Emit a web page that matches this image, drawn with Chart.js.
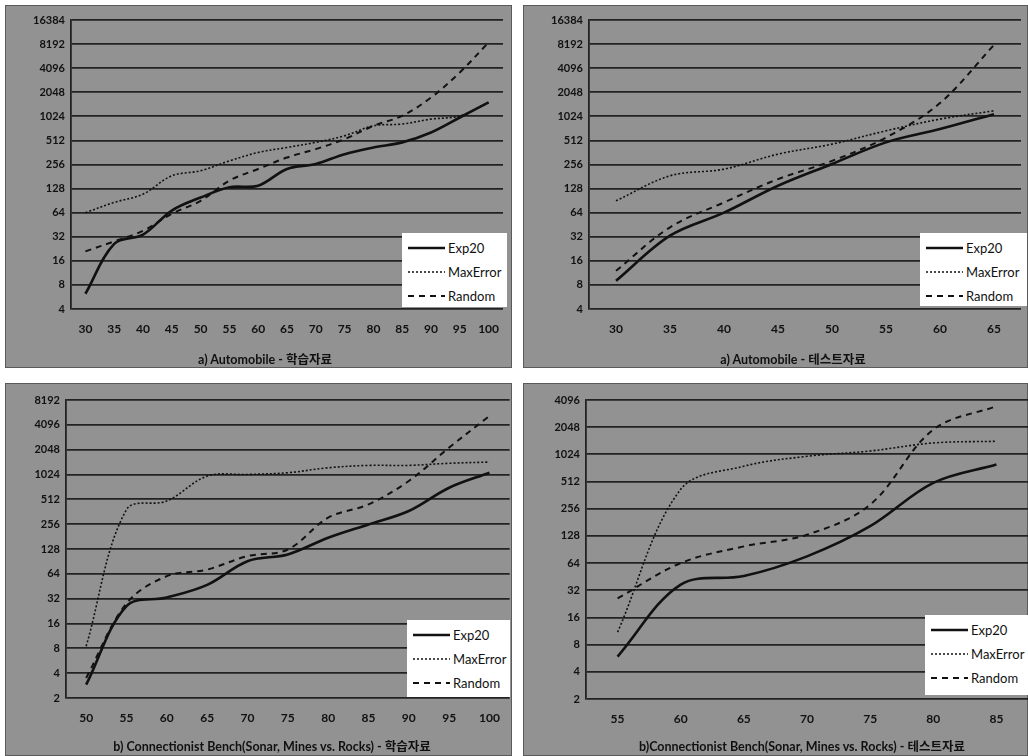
<!DOCTYPE html>
<html>
<head>
<meta charset="utf-8">
<script src="https://cdn.jsdelivr.net/npm/chart.js@4"></script>
<style>
  html, body { margin: 0; padding: 0; background: #fff; }
  body { width: 1028px; height: 756px; position: relative; overflow: hidden;
         font-family: Lato, "Noto Sans CJK KR", sans-serif; }
  .panel { position: absolute; background: #929292; box-sizing: border-box; border: 1px solid #5a5a5a; }
  .panel canvas { position: absolute; left: 0; top: 0; }
  .caption { position: absolute; font-weight: bold; font-size: 12.5px; color: #111;
             transform: translate(-50%, -50%); white-space: nowrap; }
  .legend { position: absolute; background: #fff; box-sizing: border-box; }
  .legend .item { position: absolute; left: 0; right: 0; height: 16px; font-size: 13px; color: #111; }
  .legend svg { position: absolute; left: 6px; top: 2px; }
  .legend span { position: absolute; left: 46px; top: 0; line-height: 16px; }
</style>
</head>
<body>
<script>
// ---------------------------------------------------
// DATA
// ---------------------------------------------------
const seriesNames = ['Exp20', 'MaxError', 'Random'];

// a) Automobile - training
const autoTrainX = [30, 35, 40, 45, 50, 55, 60, 65, 70, 75, 80, 85, 90, 95, 100];
const autoTrainExp20 = [6.2, 26, 34, 68, 99, 133, 139, 225, 260, 345, 418, 484, 644, 990, 1530];
const autoTrainMaxError = [64, 86, 109, 185, 214, 284, 362, 418, 484, 585, 780, 820, 945, 1035, 1530];
const autoTrainRandom = [21, 28, 38, 62, 90, 161, 225, 313, 399, 531, 780, 1040, 1760, 3620, 8600];

// a) Automobile - test
const autoTestX = [30, 35, 40, 45, 50, 55, 60, 65];
const autoTestExp20 = [9, 33, 64, 139, 260, 484, 710, 1090];
const autoTestMaxError = [90, 185, 224, 345, 460, 675, 945, 1200];
const autoTestRandom = [12, 42, 86, 168, 284, 556, 1500, 8000];

// b) Sonar - training
const sonarTrainX = [50, 55, 60, 65, 70, 75, 80, 85, 90, 95, 100];
const sonarTrainExp20 = [2.9, 26, 33, 47, 91, 110, 175, 254, 370, 708, 1077];
const sonarTrainMaxError = [8.5, 385, 488, 980, 1024, 1075, 1235, 1320, 1320, 1400, 1450];
const sonarTrainRandom = [3.5, 28, 60, 72, 105, 126, 307, 445, 855, 2170, 5250];

// b) Sonar - test
const sonarTestX = [55, 60, 65, 70, 75, 80, 85];
const sonarTestExp20 = [5.9, 37, 46, 76, 164, 495, 790];
const sonarTestMaxError = [11, 420, 756, 975, 1115, 1370, 1430];
const sonarTestRandom = [26, 64, 98, 132, 284, 1925, 3500];

// y tick labels (powers of two)
const autoTicks = [4, 8, 16, 32, 64, 128, 256, 512, 1024, 2048, 4096, 8192, 16384];
const sonarTrainTicks = [2, 4, 8, 16, 32, 64, 128, 256, 512, 1024, 2048, 4096, 8192];
const sonarTestTicks = [2, 4, 8, 16, 32, 64, 128, 256, 512, 1024, 2048, 4096];

const captions = [
    'a) Automobile - 학습자료',
    'a) Automobile - 테스트자료',
    'b) Connectionist Bench(Sonar, Mines vs. Rocks) - 학습자료',
    'b)Connectionist Bench(Sonar, Mines vs. Rocks) - 테스트자료'
];

// ---------------------------------------------------
// LAYOUT (page pixels)
// ---------------------------------------------------
const panels = [
    { box: [5, 5, 507, 363], yW: 65, top: 14, right: 10, xH: 60,
      x: autoTrainX, series: [autoTrainExp20, autoTrainMaxError, autoTrainRandom], ticks: autoTicks,
      cap: [265, 358], legend: [402, 233, 105, 74] },
    { box: [523, 5, 505, 363], yW: 65, top: 14, right: 8, xH: 60,
      x: autoTestX, series: [autoTestExp20, autoTestMaxError, autoTestRandom], ticks: autoTicks,
      cap: [793, 358], legend: [920, 233, 107, 73] },
    { box: [5, 383, 507, 373], yW: 60, top: 16, right: 2, xH: 59,
      x: sonarTrainX, series: [sonarTrainExp20, sonarTrainMaxError, sonarTrainRandom], ticks: sonarTrainTicks,
      cap: [272, 745], legend: [407, 620, 103, 77] },
    { box: [523, 383, 505, 373], yW: 62, top: 16, right: 1, xH: 58,
      x: sonarTestX, series: [sonarTestExp20, sonarTestMaxError, sonarTestRandom], ticks: sonarTestTicks,
      cap: [802, 745], legend: [925, 615, 103, 80] }
];

const lineStyles = [
    { borderWidth: 2.6, borderDash: [] },
    { borderWidth: 1.6, borderDash: [2, 2] },
    { borderWidth: 2, borderDash: [6, 5] }
];

// ---------------------------------------------------
// BUILD CHARTS
// ---------------------------------------------------
panels.forEach((p, i) => {
    const [left, top, w, h] = p.box;
    const div = document.createElement('div');
    div.className = 'panel';
    div.style.left = left + 'px';
    div.style.top = top + 'px';
    div.style.width = w + 'px';
    div.style.height = h + 'px';
    const canvas = document.createElement('canvas');
    canvas.width = w;
    canvas.height = h;
    div.appendChild(canvas);
    document.body.appendChild(div);

    new Chart(canvas, {
        type: 'line',
        data: {
            labels: p.x,
            datasets: p.series.map((vals, k) => ({
                label: seriesNames[k],
                data: vals,
                borderColor: '#111',
                borderWidth: lineStyles[k].borderWidth,
                borderDash: lineStyles[k].borderDash,
                pointRadius: 0,
                tension: 0.35,
                fill: false
            }))
        },
        options: {
            responsive: false,
            animation: false,
            layout: { padding: { left: 0, right: p.right, top: p.top, bottom: 0 } },
            plugins: { legend: { display: false }, tooltip: { enabled: false } },
            scales: {
                x: {
                    type: 'category',
                    offset: true,
                    grid: { display: false, drawTicks: false },
                    border: { display: false },
                    ticks: { color: '#111', padding: 13, maxRotation: 0, autoSkip: false,
                             font: { family: 'Lato', size: 12, weight: 'bold' } },
                    afterFit: s => { s.height = p.xH; }
                },
                y: {
                    type: 'logarithmic',
                    min: p.ticks[0],
                    max: p.ticks[p.ticks.length - 1],
                    grid: { color: '#222', lineWidth: 1.8, drawTicks: false },
                    border: { display: true, color: '#222', width: 1.8 },
                    ticks: { color: '#111', padding: 6,
                             font: { family: 'Lato', size: 11, weight: 'bold' },
                             callback: v => String(v) },
                    afterBuildTicks: s => { s.ticks = p.ticks.map(v => ({ value: v })); },
                    afterFit: s => { s.width = p.yW; }
                }
            }
        }
    });

    // caption
    const cap = document.createElement('div');
    cap.className = 'caption';
    cap.textContent = captions[i];
    cap.style.left = p.cap[0] + 'px';
    cap.style.top = p.cap[1] + 'px';
    document.body.appendChild(cap);

    // legend
    const [lx, ly, lw, lh] = p.legend;
    const lg = document.createElement('div');
    lg.className = 'legend';
    lg.style.left = lx + 'px';
    lg.style.top = ly + 'px';
    lg.style.width = lw + 'px';
    lg.style.height = lh + 'px';
    seriesNames.forEach((name, k) => {
        const item = document.createElement('div');
        item.className = 'item';
        item.style.top = (7 + k * 24) + 'px';
        const dash = lineStyles[k].borderDash.join(',');
        item.innerHTML =
            `<svg width="37" height="12"><line x1="0" y1="6" x2="37" y2="6" stroke="#111" ` +
            `stroke-width="${lineStyles[k].borderWidth}" ${dash ? `stroke-dasharray="${dash}"` : ''}/></svg>` +
            `<span>${name}</span>`;
        lg.appendChild(item);
    });
    document.body.appendChild(lg);
});
</script>
</body>
</html>
